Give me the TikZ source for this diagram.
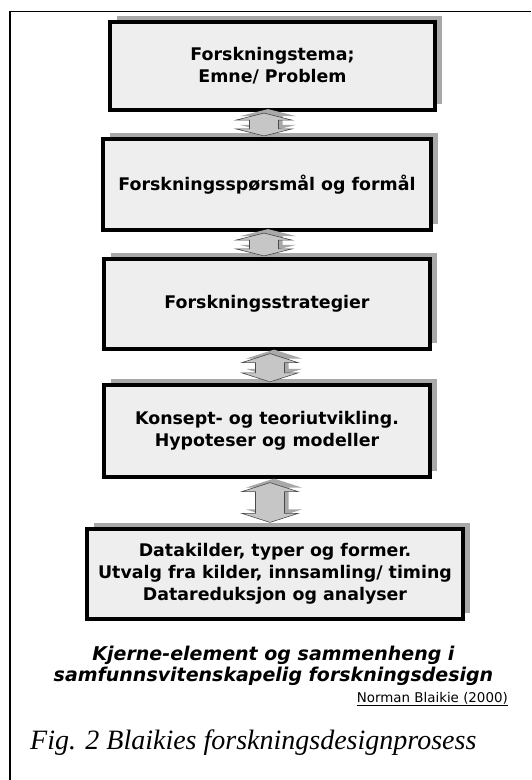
\documentclass[tikz,border=0pt]{standalone}
\usepackage{fontspec}
\setmainfont{DejaVu Sans}
\newfontfamily\figfont{Liberation Serif}
\usetikzlibrary{calc,shadows}
\definecolor{boxfill}{HTML}{EEEEEE}
\definecolor{shadowgray}{HTML}{A8A8A8}
\definecolor{arrowfill}{HTML}{C6C6C6}
\definecolor{arrowline}{HTML}{4A4A4A}
\tikzset{
  stepbox/.style={draw=black, line width=3.2pt, fill=boxfill, align=center,
    font=\fontsize{17.4}{22}\selectfont\bfseries, inner sep=0pt,
    drop shadow={shadow xshift=7pt, shadow yshift=6pt, opacity=1, fill=shadowgray}},
  arrshadow/.style={fill=shadowgray},
  arrbody/.style={fill=arrowfill, draw=arrowline, line width=0.6pt, line join=miter},
}
% #1 upper node, #2 lower node, #3 x centre, #4 top gap, #5 bottom gap, #6 head height
\newcommand\dblarr[6]{%
  \foreach \dx/\dy/\sty in {4/4/arrshadow,0/0/arrbody}{%
    \path[\sty] let \p1=(#1.south), \p2=(#2.north), \p3=(#3,0) in
      (\x3+\dx pt, \y1-#4pt+\dy pt)
      -- (\x3+28pt+\dx pt, \y1-#4pt-#6pt+\dy pt)
      -- (\x3+14.5pt+\dx pt, \y1-#4pt-#6pt+\dy pt)
      -- (\x3+14.5pt+\dx pt, \y2+#5pt+#6pt+\dy pt)
      -- (\x3+28pt+\dx pt, \y2+#5pt+#6pt+\dy pt)
      -- (\x3+\dx pt, \y2+#5pt+\dy pt)
      -- (\x3-28pt+\dx pt, \y2+#5pt+#6pt+\dy pt)
      -- (\x3-14.5pt+\dx pt, \y2+#5pt+#6pt+\dy pt)
      -- (\x3-14.5pt+\dx pt, \y1-#4pt-#6pt+\dy pt)
      -- (\x3-28pt+\dx pt, \y1-#4pt-#6pt+\dy pt)
      -- cycle;
  }%
}
\begin{document}
\begin{tikzpicture}[x=1pt,y=-1pt]
\useasboundingbox (0,0) rectangle (531,780);
\fill[white] (0,0) rectangle (531,780);
\draw[line width=1.3pt] (531,11.5) -- (10,11.5) -- (10,780);

\node[stepbox, minimum width=325pt, minimum height=88pt] (b1) at (272.5,66) {Forskningstema;\\Emne/ Problem};
\node[stepbox, minimum width=328pt, minimum height=91pt] (b2) at (267,184.5) {Forskningsspørsmål og formål};
\node[stepbox, minimum width=326pt, minimum height=90pt] (b3) at (267,304) {Forskningsstrategier};
\node[stepbox, minimum width=326pt, minimum height=92pt] (b4) at (267,431) {Konsept- og teoriutvikling.\\Hypoteser og modeller};
\node[stepbox, minimum width=376pt, minimum height=90pt] (b5) at (275,574) {Datakilder, typer og former.\\Utvalg fra kilder, innsamling/ timing\\Datareduksjon og analyser};

\dblarr{b1}{b2}{264}{1.5}{1.5}{7}
\dblarr{b2}{b3}{264}{1.5}{1.5}{7}
\dblarr{b3}{b4}{270}{3}{1.5}{9}
\dblarr{b4}{b5}{270}{4}{5}{9}

\node[align=center, font=\fontsize{19}{21}\selectfont\bfseries\itshape] (cap) at (273.5,666)
  {Kjerne-element og sammenheng i\\samfunnsvitenskapelig forskningsdesign};
\node[anchor=base east, inner sep=0pt, font=\fontsize{13.4}{16}\selectfont] (src) at (508,702)
  {\underline{Norman Blaikie (2000)}};
\node[anchor=base west, inner sep=0pt, font=\fontsize{28}{32}\selectfont\figfont\itshape] (fig) at (30,749)
  {Fig. 2 Blaikies forskningsdesignprosess};
\end{tikzpicture}
\end{document}
